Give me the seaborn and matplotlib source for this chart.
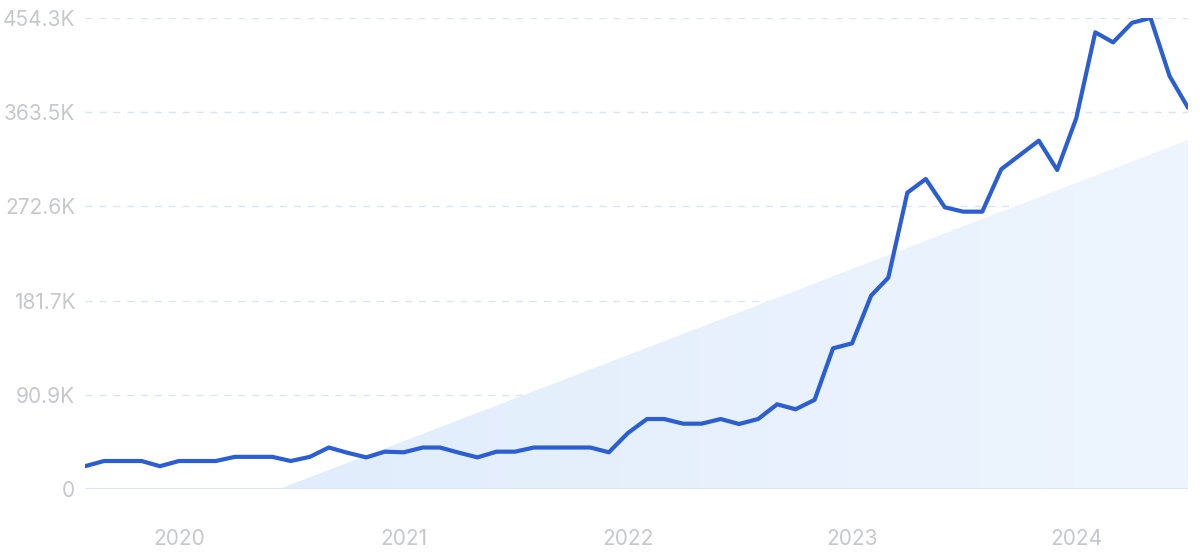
import pandas as pd
import seaborn as sns
import matplotlib.pyplot as plt
import matplotlib.dates as mdates
import numpy as np

# Monthly search volume, Aug 2019 - Jul 2024 (values in thousands)
months = pd.date_range("2019-08-01", periods=60, freq="MS")
volume_k = [
    22, 27, 27, 27, 22, 27, 27, 27, 31, 31,
    31, 27, 31, 40, 35, 30.5, 36, 35.4, 40, 40,
    35, 30.5, 36, 36, 40, 40, 40, 40, 35.4, 54,
    67.5, 67.5, 63, 63, 67.5, 62.7, 67.5, 81.7, 76.9, 86,
    135.7, 140.5, 186.5, 203.8, 285.8, 299, 271.7, 267.5, 267.5, 308.5,
    322, 336, 307.7, 357.5, 440.5, 430.8, 449.7, 454.3, 398.3, 367.8,
]
# straight trend line, value at first and last month (thousands)
trend_start_k = -72.0
trend_end_k = 336.6

ytick_values = [0, 90.9, 181.7, 272.6, 363.5, 454.3]
ytick_labels = ["0", "90.9K", "181.7K", "272.6K", "363.5K", "454.3K"]
year_ticks = ["2020", "2021", "2022", "2023", "2024"]

df = pd.DataFrame({"month": months, "volume": np.array(volume_k) * 1000})

sns.set_theme(style="white")
plt.rcParams["font.family"] = ["Inter", "DejaVu Sans"]

fig = plt.figure(figsize=(12, 5.54), dpi=100)
ax = fig.add_axes([85 / 1200, 1 - 489 / 554, (1188 - 85) / 1200, (489 - 18) / 554])

# trend area, clipped at zero
x0 = mdates.date2num(months[0])
x1 = mdates.date2num(months[-1])
t0, t1 = trend_start_k * 1000, trend_end_k * 1000
x_zero = x0 + (x1 - x0) * (-t0) / (t1 - t0)
poly = ax.fill_between([x_zero, x1], [0, 0], [0, t1], color="none", lw=0)
grad = np.linspace(0, 1, 256).reshape(1, -1)
cmap = plt.matplotlib.colors.LinearSegmentedColormap.from_list("tr", ["#e1edfc", "#eef5fe"])
img = ax.imshow(grad, cmap=cmap, aspect="auto", extent=[x_zero, x1, 0, t1],
                origin="lower", zorder=1)
img.set_clip_path(poly.get_paths()[0], transform=ax.transData)

# gridlines
for v in ytick_values[1:]:
    ax.axhline(v * 1000, color="#dde4ef", lw=1, ls=(0, (5, 5)), zorder=0)
ax.axhline(0, color="#dfe5ee", lw=1.5, zorder=2)

sns.lineplot(data=df, x="month", y="volume", color="#2c5ed3", lw=3, ax=ax, zorder=3)

ax.set_xlim(x0, x1)
ax.set_ylim(0, 454.3 * 1000)
ax.set_yticks([v * 1000 for v in ytick_values])
ax.set_yticklabels(ytick_labels)
ax.set_xticks([mdates.date2num(pd.Timestamp(f"{y}-01-01")) for y in year_ticks])
ax.set_xticklabels(year_ticks)
ax.tick_params(axis="y", length=0, pad=7, labelsize=15, labelcolor="#c6c8ce")
ax.tick_params(axis="x", length=0, pad=29, labelsize=15, labelcolor="#c6c8ce")
ax.set_xlabel("")
ax.set_ylabel("")
for s in ax.spines.values():
    s.set_visible(False)
ax.set_facecolor("none")

fig.savefig("out.png", dpi=100, facecolor="white")
